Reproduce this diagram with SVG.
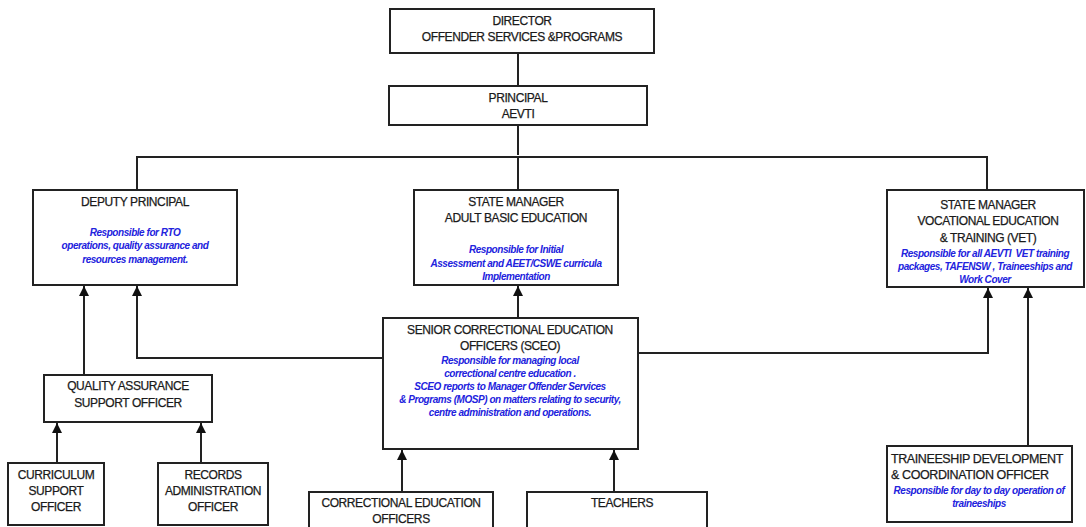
<svg xmlns="http://www.w3.org/2000/svg" width="1086" height="527" viewBox="0 0 1086 527">
<defs>
<style>
.box{fill:#fff;stroke:#222;stroke-width:2}
.ln{fill:none;stroke:#222;stroke-width:2}
.t{font-family:"Liberation Sans",Arial,sans-serif;font-size:12px;fill:#1a1a1a;stroke:#1a1a1a;stroke-width:0.25px;text-anchor:middle;letter-spacing:-0.4px}
.b{font-family:"Liberation Sans",Arial,sans-serif;font-size:10px;font-weight:bold;font-style:italic;fill:#2222dd;text-anchor:middle;letter-spacing:-0.45px}
</style>
<marker id="ah" viewBox="0 0 10 10" refX="10" refY="5" markerWidth="5" markerHeight="5" orient="auto" markerUnits="strokeWidth">
<path d="M0,0 L10,5 L0,10 z" fill="#111"/>
</marker>
</defs>
<rect width="1086" height="527" fill="#fff"/>
<g id="connectors">
<path class="ln" d="M518,53 V86"/>
<path class="ln" d="M518,125 V155"/>
<path class="ln" d="M137,190 V157 H987 V190"/>
<path class="ln" d="M518,157 V190"/>
<path class="ln" d="M518,318 V286" marker-end="url(#ah)"/>
<path class="ln" d="M383,358 H137 V286" marker-end="url(#ah)"/>
<path class="ln" d="M638,353 H988 V288" marker-end="url(#ah)"/>
<path class="ln" d="M84,375 V286" marker-end="url(#ah)"/>
<path class="ln" d="M57,463 V423" marker-end="url(#ah)"/>
<path class="ln" d="M201,463 V423" marker-end="url(#ah)"/>
<path class="ln" d="M402,492 V450" marker-end="url(#ah)"/>
<path class="ln" d="M614,492 V450" marker-end="url(#ah)"/>
<path class="ln" d="M1028,446 V288" marker-end="url(#ah)"/>
</g>
<g id="director">
<rect class="box" x="390" y="9" width="264" height="44"/>
<text class="t" x="522" y="25">DIRECTOR</text>
<text class="t" x="522" y="41">OFFENDER SERVICES &amp;PROGRAMS</text>
</g>
<g id="principal">
<rect class="box" x="389" y="86" width="258" height="39"/>
<text class="t" x="518" y="102">PRINCIPAL</text>
<text class="t" x="518" y="118">AEVTI</text>
</g>
<g id="deputy">
<rect class="box" x="33" y="190" width="204" height="95"/>
<text class="t" x="135" y="206">DEPUTY PRINCIPAL</text>
<text class="b" x="135" y="236">Responsible for RTO</text>
<text class="b" x="135" y="249">operations, quality assurance and</text>
<text class="b" x="135" y="263">resources management.</text>
</g>
<g id="abe">
<rect class="box" x="414" y="190" width="204" height="95"/>
<text class="t" x="516" y="206">STATE MANAGER</text>
<text class="t" x="516" y="222">ADULT BASIC EDUCATION</text>
<text class="b" x="516" y="253">Responsible for Initial</text>
<text class="b" x="516" y="267">Assessment and AEET/CSWE curricula</text>
<text class="b" x="516" y="280">Implementation</text>
</g>
<g id="vet">
<rect class="box" x="887" y="190" width="197" height="97"/>
<text class="t" x="988" y="209">STATE MANAGER</text>
<text class="t" x="988" y="225">VOCATIONAL EDUCATION</text>
<text class="t" x="988" y="242">&amp; TRAINING (VET)</text>
<text class="b" x="985" y="257" xml:space="preserve">Responsible for all AEVTI  VET training</text>
<text class="b" x="985" y="270">packages, TAFENSW , Traineeships and</text>
<text class="b" x="985" y="283">Work Cover</text>
</g>
<g id="sceo">
<rect class="box" x="383" y="318" width="255" height="131"/>
<text class="t" x="510" y="334">SENIOR CORRECTIONAL EDUCATION</text>
<text class="t" x="510" y="350">OFFICERS (SCEO)</text>
<text class="b" x="510" y="364">Responsible for managing local</text>
<text class="b" x="510" y="377">correctional centre education .</text>
<text class="b" x="510" y="390">SCEO reports to Manager Offender Services</text>
<text class="b" x="510" y="403">&amp; Programs (MOSP) on matters relating to security,</text>
<text class="b" x="510" y="416">centre administration and operations.</text>
</g>
<g id="qa">
<rect class="box" x="44" y="375" width="168" height="47"/>
<text class="t" x="128" y="390">QUALITY ASSURANCE</text>
<text class="t" x="128" y="407">SUPPORT OFFICER</text>
</g>
<g id="curriculum">
<rect class="box" x="8" y="463" width="96" height="62"/>
<text class="t" x="56" y="479">CURRICULUM</text>
<text class="t" x="56" y="495">SUPPORT</text>
<text class="t" x="56" y="511">OFFICER</text>
</g>
<g id="records">
<rect class="box" x="158" y="463" width="110" height="62"/>
<text class="t" x="213" y="479">RECORDS</text>
<text class="t" x="213" y="495">ADMINISTRATION</text>
<text class="t" x="213" y="511">OFFICER</text>
</g>
<g id="ceo">
<rect class="box" x="309" y="492" width="184" height="40"/>
<text class="t" x="401" y="507">CORRECTIONAL EDUCATION</text>
<text class="t" x="401" y="523">OFFICERS</text>
</g>
<g id="teachers">
<rect class="box" x="527" y="492" width="180" height="40"/>
<text class="t" x="622" y="507">TEACHERS</text>
</g>
<g id="traineeship">
<rect class="box" x="887" y="446" width="185" height="76"/>
<text class="t" x="891" y="463" style="text-anchor:start;font-size:12.5px">TRAINEESHIP DEVELOPMENT</text>
<text class="t" x="891" y="479" style="text-anchor:start;font-size:12.5px">&amp; COORDINATION OFFICER</text>
<text class="b" x="979" y="494">Responsible for day to day operation of</text>
<text class="b" x="979" y="507">traineeships</text>
</g>
</svg>
